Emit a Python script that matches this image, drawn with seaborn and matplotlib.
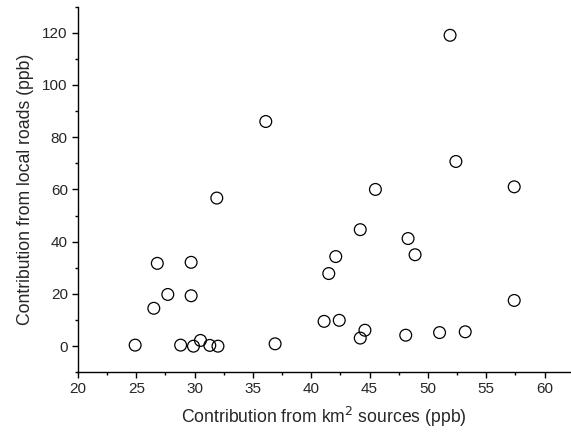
import matplotlib
matplotlib.use("Agg")
import matplotlib.pyplot as plt
import seaborn as sns
import pandas as pd
from matplotlib.ticker import MultipleLocator

# contribution from km2 sources (ppb)
km2_sources = [24.9, 26.5, 26.8, 27.7, 28.8, 29.7, 29.7, 29.9, 30.5, 31.3, 32.0,
               31.9, 36.1, 36.9, 41.1, 41.5, 42.1, 42.4, 44.2, 44.2, 44.6, 45.5,
               48.1, 48.3, 48.9, 51.0, 51.9, 52.4, 53.2, 57.4, 57.4]
# contribution from local roads (ppb)
local_roads = [0.4, 14.5, 31.7, 19.8, 0.4, 32.1, 19.3, 0.0, 2.2, 0.3, 0.0,
               56.7, 86.0, 0.9, 9.5, 27.8, 34.3, 9.9, 3.1, 44.6, 6.1, 60.0,
               4.2, 41.2, 35.0, 5.2, 119.0, 70.7, 5.5, 61.0, 17.5]

df = pd.DataFrame({"km2": km2_sources, "roads": local_roads})

sns.set_style("ticks")
plt.rcParams['font.family'] = ['Liberation Sans', 'DejaVu Sans']

fig = plt.figure(figsize=(5.71, 4.38), dpi=100)
ax = fig.add_axes([0.1366, 0.15, 0.862, 0.835])

sns.scatterplot(data=df, x="km2", y="roads", ax=ax, s=72, marker="o",
                facecolor="none", edgecolor="black", linewidth=0.9)

ax.set_xlim(20, 62.2)
ax.set_ylim(-10, 130)
ax.xaxis.set_major_locator(MultipleLocator(5))
ax.xaxis.set_minor_locator(MultipleLocator(2.5))
ax.yaxis.set_major_locator(MultipleLocator(20))
ax.yaxis.set_minor_locator(MultipleLocator(10))
ax.tick_params(which="major", direction="out", length=4.3, width=1, labelsize=11,
               color="black", pad=3)
ax.tick_params(which="minor", direction="out", length=2.5, width=1, color="black")
sns.despine(ax=ax)
for sp in ["left", "bottom"]:
    ax.spines[sp].set_linewidth(1)
    ax.spines[sp].set_color("black")

ax.set_xlabel("Contribution from km$^2$ sources (ppb)", fontsize=12.7, labelpad=6)
ax.set_ylabel("Contribution from local roads (ppb)", fontsize=12.7, labelpad=6)

fig.savefig("out.png", dpi=100)
